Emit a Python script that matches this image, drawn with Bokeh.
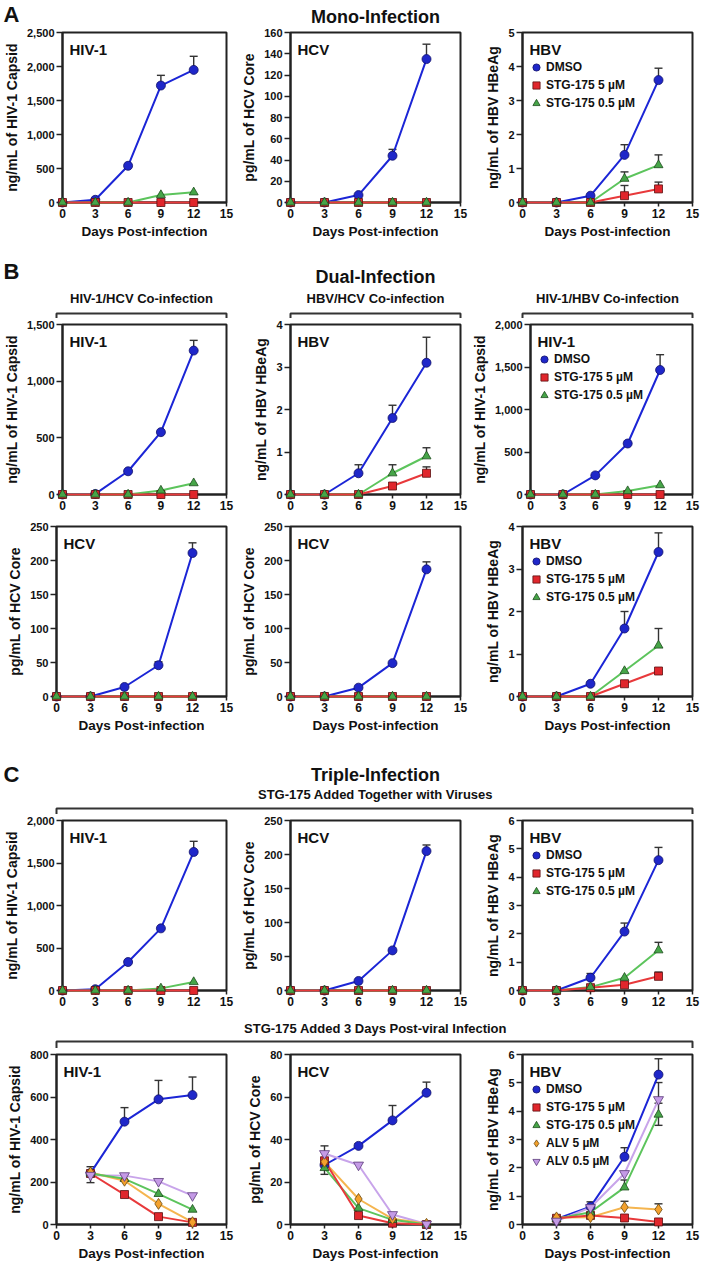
from bokeh.plotting import figure
from bokeh.models import Range1d, Label, Legend, LegendItem, FixedTicker, NumeralTickFormatter
from bokeh.layouts import column, row
from bokeh.embed import file_html
from bokeh.resources import INLINE
from bokeh.core.properties import value

# ------------------------------------------------------------------ data
DAYS = [0, 3, 6, 9, 12]
DAYS_LATE = [3, 6, 9, 12]
X_TICKS = [0, 3, 6, 9, 12, 15]

# A  Mono-infection
a_hiv_dmso = [0, 40, 540, 1720, 1950]
a_hiv_dmso_err = [0, 0, 0, 150, 200]
a_hiv_stg5 = [0, 0, 0, 0, 0]
a_hiv_stg05 = [0, 0, 0, 110, 150]

a_hcv_dmso = [0, 0, 7, 44, 135]
a_hcv_dmso_err = [0, 0, 0, 6, 14]
a_hcv_stg5 = [0, 0, 0, 0, 0]
a_hcv_stg05 = [0, 0, 0, 0, 0]

a_hbv_dmso = [0, 0, 0.2, 1.4, 3.6]
a_hbv_dmso_err = [0, 0, 0, 0.3, 0.35]
a_hbv_stg5 = [0, 0, 0, 0.2, 0.4]
a_hbv_stg5_err = [0, 0, 0, 0.3, 0.2]
a_hbv_stg05 = [0, 0, 0, 0.7, 1.1]
a_hbv_stg05_err = [0, 0, 0, 0.2, 0.3]

# B  Dual-infection (top row)
b_hivhcv_hiv_dmso = [0, 5, 205, 550, 1270]
b_hivhcv_hiv_dmso_err = [0, 0, 0, 0, 90]
b_hivhcv_hiv_stg5 = [0, 0, 0, 0, 0]
b_hivhcv_hiv_stg05 = [0, 0, 0, 35, 100]

b_hbvhcv_hbv_dmso = [0, 0, 0.5, 1.8, 3.1]
b_hbvhcv_hbv_dmso_err = [0, 0, 0.2, 0.3, 0.6]
b_hbvhcv_hbv_stg5 = [0, 0, 0, 0.2, 0.5]
b_hbvhcv_hbv_stg5_err = [0, 0, 0, 0, 0.15]
b_hbvhcv_hbv_stg05 = [0, 0, 0, 0.5, 0.9]
b_hbvhcv_hbv_stg05_err = [0, 0, 0, 0.2, 0.2]

b_hivhbv_hiv_dmso = [0, 0, 225, 600, 1465]
b_hivhbv_hiv_dmso_err = [0, 0, 0, 0, 180]
b_hivhbv_hiv_stg5 = [0, 0, 0, 0, 0]
b_hivhbv_hiv_stg05 = [0, 0, 0, 40, 110]

# B  Dual-infection (bottom row)
b_hivhcv_hcv_dmso = [0, 0, 14, 46, 211]
b_hivhcv_hcv_dmso_err = [0, 0, 0, 5, 15]
b_hivhcv_hcv_stg5 = [0, 0, 0, 0, 0]
b_hivhcv_hcv_stg05 = [0, 0, 0, 0, 0]

b_hbvhcv_hcv_dmso = [0, 0, 13, 49, 187]
b_hbvhcv_hcv_dmso_err = [0, 0, 0, 0, 11]
b_hbvhcv_hcv_stg5 = [0, 0, 0, 0, 0]
b_hbvhcv_hcv_stg05 = [0, 0, 0, 0, 0]

b_hivhbv_hbv_dmso = [0, 0, 0.3, 1.6, 3.4]
b_hivhbv_hbv_dmso_err = [0, 0, 0, 0.4, 0.45]
b_hivhbv_hbv_stg5 = [0, 0, 0, 0.3, 0.6]
b_hivhbv_hbv_stg05 = [0, 0, 0, 0.6, 1.2]
b_hivhbv_hbv_stg05_err = [0, 0, 0, 0, 0.4]

# C  Triple-infection, added together with viruses
c_hiv_dmso = [0, 15, 335, 731, 1630]
c_hiv_dmso_err = [0, 0, 0, 0, 125]
c_hiv_stg5 = [0, 0, 0, 0, 0]
c_hiv_stg05 = [0, 0, 0, 25, 100]

c_hcv_dmso = [0, 0, 14, 59, 205]
c_hcv_dmso_err = [0, 0, 0, 0, 9]
c_hcv_stg5 = [0, 0, 0, 0, 0]
c_hcv_stg05 = [0, 0, 0, 0, 0]

c_hbv_dmso = [0, 0, 0.45, 2.08, 4.6]
c_hbv_dmso_err = [0, 0, 0.15, 0.3, 0.45]
c_hbv_stg5 = [0, 0, 0.1, 0.2, 0.5]
c_hbv_stg5_err = [0, 0, 0, 0, 0.15]
c_hbv_stg05 = [0, 0, 0.12, 0.45, 1.42]
c_hbv_stg05_err = [0, 0, 0, 0, 0.28]

# C  Triple-infection, added 3 days post-infection
d_hiv_dmso = [242, 484, 589, 609]
d_hiv_dmso_err = [30, 66, 89, 85]
d_hiv_dmso_err_lo = [45, 0, 0, 0]
d_hiv_stg5 = [240, 141, 37, 10]
d_hiv_stg05 = [240, 215, 144, 70]
d_hiv_alv5 = [245, 206, 97, 11]
d_hiv_alv05 = [232, 230, 203, 136]

d_hcv_dmso = [28, 37, 49, 62]
d_hcv_dmso_err = [0, 1, 7, 5]
d_hcv_stg5 = [30, 4.2, 0.6, 0]
d_hcv_stg05 = [26.6, 7.7, 2.2, 0]
d_hcv_stg05_err = [3, 0, 0, 0]
d_hcv_stg05_err_lo = [3, 0, 0, 0]
d_hcv_alv5 = [29.5, 12, 2.7, 0.3]
d_hcv_alv05 = [33.4, 28, 4.7, 0.2]
d_hcv_alv05_err = [3.6, 0, 0, 0]

d_hbv_dmso = [0.2, 0.63, 2.39, 5.29]
d_hbv_dmso_err = [0, 0.17, 0.32, 0.56]
d_hbv_stg5 = [0.22, 0.32, 0.23, 0.09]
d_hbv_stg05 = [0.2, 0.43, 1.31, 3.88]
d_hbv_stg05_err = [0, 0, 0.26, 0.4]
d_hbv_stg05_err_lo = [0, 0, 0, 0.38]
d_hbv_alv5 = [0.25, 0.26, 0.61, 0.53]
d_hbv_alv5_err = [0, 0, 0.21, 0.2]
d_hbv_alv05 = [0.12, 0.6, 1.8, 4.41]
d_hbv_alv05_err = [0, 0, 0, 0.6]

LABELS = {"dmso": "DMSO", "stg5": "STG-175 5 µM", "stg05": "STG-175 0.5 µM",
          "alv5": "ALV 5 µM", "alv05": "ALV 0.5 µM"}

# ------------------------------------------------------------------ style
FONT = "Liberation Sans"
STYLE = {
    "dmso":  dict(marker="circle", size=9, fill="#1f27c9", edge="#10106a", path="#1b25d6"),
    "stg5":  dict(marker="square", size=8, fill="#e0262c", edge="#5a1010", path="#e8393b"),
    "stg05": dict(marker="triangle", size=9, fill="#46a548", edge="#1d4d1d", path="#5cc45c"),
    "alv5":  dict(marker="diamond", size=11, fill="#f4a12c", edge="#6a4a10", path="#f5b54f"),
    "alv05": dict(marker="inverted_triangle", size=10, fill="#c49ae6", edge="#5a3a7a", path="#c8a4ea"),
}
LINE_ORDER = ["dmso", "alv05", "alv5", "stg05", "stg5"]
MARK_ORDER = ["dmso", "stg5", "stg05", "alv5", "alv05"]

TOTAL_W = 700
COL_LEFT = [56, 56, 54]
COL_RIGHT = 8
FRAME_W = 170
FRAME_H = 170
FRAME_X = [(56, 226), (290, 460), (522, 692)]   # frame spans in header coordinates
COL_CX = [(a + b) / 2 for a, b in FRAME_X]


def S(key, vals, hi=None, lo=None):
    return dict(key=key, vals=vals, hi=hi, lo=lo)


def panel(col, xs, ymax, ystep, ylabel, name, series, xlabel, top, legend):
    left = COL_LEFT[col]
    bottom = 42 if xlabel else 22
    p = figure(width=left + FRAME_W + COL_RIGHT, height=top + FRAME_H + bottom,
               x_range=Range1d(0, 15), y_range=Range1d(0, ymax),
               output_backend="svg", toolbar_location=None,
               min_border_left=left, min_border_right=COL_RIGHT,
               min_border_top=top, min_border_bottom=bottom)
    p.grid.visible = False
    p.outline_line_color = "#222"
    p.outline_line_width = 2

    p.xaxis.ticker = FixedTicker(ticks=X_TICKS)
    nt = int(round(ymax / ystep))
    p.yaxis.ticker = FixedTicker(ticks=[ystep * i for i in range(nt + 1)])
    p.yaxis.formatter = NumeralTickFormatter(format="0,0")
    for ax in (p.xaxis, p.yaxis):
        ax.axis_line_color = "#222"
        ax.axis_line_width = 2
        ax.major_tick_line_color = "#222"
        ax.major_tick_line_width = 1.5
        ax.major_tick_in = 0
        ax.minor_tick_line_color = None
        ax.major_label_text_color = "#111"
        ax.major_label_text_font = FONT
        ax.major_label_text_font_style = "bold"
        ax.axis_label_text_font = FONT
        ax.axis_label_text_font_style = "bold"
        ax.axis_label_text_color = "#111"
    p.xaxis.major_label_text_font_size = "12px"
    p.yaxis.major_label_text_font_size = "11px"
    p.xaxis.major_tick_out = 4
    p.yaxis.major_tick_out = 6
    p.xaxis.major_label_standoff = 2
    p.yaxis.major_label_standoff = 2
    p.yaxis.axis_label = ylabel
    p.yaxis.axis_label_text_font_size = "14px"
    p.yaxis.axis_label_standoff = 4
    if xlabel:
        p.xaxis.axis_label = "Days Post-infection"
        p.xaxis.axis_label_text_font_size = "13.5px"
        p.xaxis.axis_label_standoff = 3

    by_key = {s["key"]: s for s in series}

    # error bars
    for s in series:
        ex, y0, y1, lx, ly = [], [], [], [], []
        for i, (xv, yv) in enumerate(zip(xs, s["vals"])):
            hi = s["hi"][i] if s["hi"] else 0
            lo = s["lo"][i] if s["lo"] else 0
            if hi or lo:
                ex.append(xv)
                y0.append(yv - lo)
                y1.append(yv + hi)
                if hi:
                    lx.append(xv); ly.append(yv + hi)
                if lo:
                    lx.append(xv); ly.append(yv - lo)
        if ex:
            p.segment(ex, y0, ex, y1, line_color="#333", line_width=1.4, level="overlay")
            p.scatter(lx, ly, marker="dash", size=8, line_color="#333", line_width=1.4, level="overlay")

    for key in LINE_ORDER:
        if key in by_key:
            st = STYLE[key]
            p.line(xs, by_key[key]["vals"], line_color=st["path"], line_width=2, level="overlay")

    marks = {}
    for key in MARK_ORDER:
        if key in by_key:
            st = STYLE[key]
            marks[key] = p.scatter(xs, by_key[key]["vals"], marker=st["marker"], size=st["size"],
                                   fill_color=st["fill"], line_color=st["edge"], line_width=0.8,
                                   level="overlay")

    p.add_layout(Label(x=0, y=ymax, x_offset=7, y_offset=-8, text=name, text_font=FONT,
                       text_font_size="15px", text_font_style="bold", text_baseline="top",
                       text_color="#111"))
    if legend:
        items = [LegendItem(label=LABELS[k], renderers=[marks[k]]) for k in MARK_ORDER if k in marks]
        n = len(items)
        leg = Legend(items=items, location=(5, FRAME_H - 26 - n * 18),
                     glyph_width=18, glyph_height=18, label_height=18, label_standoff=1,
                     spacing=0, padding=0, margin=0, background_fill_alpha=0,
                     border_line_color=None, label_text_font=FONT, label_text_font_size="12px",
                     label_text_font_style="bold", label_text_color="#111")
        p.add_layout(leg)
    return p


def header(h, texts, brackets):
    p = figure(width=TOTAL_W, height=h, x_range=Range1d(0, TOTAL_W), y_range=Range1d(h, 0),
               x_axis_type=None, y_axis_type=None, output_backend="svg", toolbar_location=None,
               min_border=0, min_border_left=0, min_border_right=0,
               min_border_top=0, min_border_bottom=0)
    p.outline_line_color = None
    p.grid.visible = False
    for (x, y, txt, size, align) in texts:
        p.text(x=[x], y=[y], text=[txt], text_font=value(FONT), text_font_size=value(size),
               text_font_style="bold", text_align=align, text_baseline="middle", text_color="#111")
    for (x0, x1, y) in brackets:
        p.line([x0, x0, x1, x1], [h, y, y, h], line_color="#333", line_width=2)
    return p


HIV_L = "ng/mL of HIV-1 Capsid"
HCV_L = "pg/mL of HCV Core"
HBV_L = "ng/mL of HBV HBeAg"
SUB = "13px"
BIG = "22px"

hA = header(26, [(3, 14, "A", BIG, "left"),
                 (COL_CX[1], 16, "Mono-Infection", "18px", "center")], [])
rowA = row(
    panel(0, DAYS, 2500, 500, HIV_L, "HIV-1",
          [S("dmso", a_hiv_dmso, a_hiv_dmso_err), S("stg5", a_hiv_stg5), S("stg05", a_hiv_stg05)],
          True, 6, False),
    panel(1, DAYS, 160, 20, HCV_L, "HCV",
          [S("dmso", a_hcv_dmso, a_hcv_dmso_err), S("stg5", a_hcv_stg5), S("stg05", a_hcv_stg05)],
          True, 6, False),
    panel(2, DAYS, 5, 1, HBV_L, "HBV",
          [S("dmso", a_hbv_dmso, a_hbv_dmso_err), S("stg5", a_hbv_stg5, a_hbv_stg5_err),
           S("stg05", a_hbv_stg05, a_hbv_stg05_err)],
          True, 6, True),
)

hB = header(74, [(3, 27, "B", BIG, "left"),
                 (COL_CX[1], 32, "Dual-Infection", "18px", "center"),
                 (COL_CX[0], 54, "HIV-1/HCV Co-infection", SUB, "center"),
                 (COL_CX[1], 54, "HBV/HCV Co-infection", SUB, "center"),
                 (COL_CX[2], 54, "HIV-1/HBV Co-infection", SUB, "center")],
            [(FRAME_X[0][0], FRAME_X[0][1], 69), (FRAME_X[1][0], FRAME_X[1][1], 69),
             (FRAME_X[2][0], FRAME_X[2][1], 69)])
rowB1 = row(
    panel(0, DAYS, 1500, 500, HIV_L, "HIV-1",
          [S("dmso", b_hivhcv_hiv_dmso, b_hivhcv_hiv_dmso_err), S("stg5", b_hivhcv_hiv_stg5),
           S("stg05", b_hivhcv_hiv_stg05)], False, 6, False),
    panel(1, DAYS, 4, 1, HBV_L, "HBV",
          [S("dmso", b_hbvhcv_hbv_dmso, b_hbvhcv_hbv_dmso_err),
           S("stg5", b_hbvhcv_hbv_stg5, b_hbvhcv_hbv_stg5_err),
           S("stg05", b_hbvhcv_hbv_stg05, b_hbvhcv_hbv_stg05_err)], False, 6, False),
    panel(2, DAYS, 2000, 500, HIV_L, "HIV-1",
          [S("dmso", b_hivhbv_hiv_dmso, b_hivhbv_hiv_dmso_err), S("stg5", b_hivhbv_hiv_stg5),
           S("stg05", b_hivhbv_hiv_stg05)], False, 6, True),
)
rowB2 = row(
    panel(0, DAYS, 250, 50, HCV_L, "HCV",
          [S("dmso", b_hivhcv_hcv_dmso, b_hivhcv_hcv_dmso_err), S("stg5", b_hivhcv_hcv_stg5),
           S("stg05", b_hivhcv_hcv_stg05)], True, 10, False),
    panel(1, DAYS, 250, 50, HCV_L, "HCV",
          [S("dmso", b_hbvhcv_hcv_dmso, b_hbvhcv_hcv_dmso_err), S("stg5", b_hbvhcv_hcv_stg5),
           S("stg05", b_hbvhcv_hcv_stg05)], True, 10, False),
    panel(2, DAYS, 4, 1, HBV_L, "HBV",
          [S("dmso", b_hivhbv_hbv_dmso, b_hivhbv_hbv_dmso_err), S("stg5", b_hivhbv_hbv_stg5),
           S("stg05", b_hivhbv_hbv_stg05, b_hivhbv_hbv_stg05_err)], True, 10, True),
)

hC = header(76, [(3, 36, "C", BIG, "left"),
                 (COL_CX[1], 36, "Triple-Infection", "18px", "center"),
                 (COL_CX[1], 56, "STG-175 Added Together with Viruses", SUB, "center")],
            [(FRAME_X[0][0], FRAME_X[2][1], 70)])
rowC1 = row(
    panel(0, DAYS, 2000, 500, HIV_L, "HIV-1",
          [S("dmso", c_hiv_dmso, c_hiv_dmso_err), S("stg5", c_hiv_stg5), S("stg05", c_hiv_stg05)],
          False, 6, False),
    panel(1, DAYS, 250, 50, HCV_L, "HCV",
          [S("dmso", c_hcv_dmso, c_hcv_dmso_err), S("stg5", c_hcv_stg5), S("stg05", c_hcv_stg05)],
          False, 6, False),
    panel(2, DAYS, 6, 1, HBV_L, "HBV",
          [S("dmso", c_hbv_dmso, c_hbv_dmso_err), S("stg5", c_hbv_stg5, c_hbv_stg5_err),
           S("stg05", c_hbv_stg05, c_hbv_stg05_err)], False, 6, True),
)

hC2 = header(36, [(COL_CX[1], 16, "STG-175 Added 3 Days Post-viral Infection", SUB, "center")],
             [(FRAME_X[0][0], FRAME_X[2][1], 29)])
rowC2 = row(
    panel(0, DAYS_LATE, 800, 200, HIV_L, "HIV-1",
          [S("dmso", d_hiv_dmso, d_hiv_dmso_err, d_hiv_dmso_err_lo), S("stg5", d_hiv_stg5),
           S("stg05", d_hiv_stg05), S("alv5", d_hiv_alv5), S("alv05", d_hiv_alv05)],
          True, 6, False),
    panel(1, DAYS_LATE, 80, 20, HCV_L, "HCV",
          [S("dmso", d_hcv_dmso, d_hcv_dmso_err), S("stg5", d_hcv_stg5),
           S("stg05", d_hcv_stg05, d_hcv_stg05_err, d_hcv_stg05_err_lo), S("alv5", d_hcv_alv5),
           S("alv05", d_hcv_alv05, d_hcv_alv05_err)],
          True, 6, False),
    panel(2, DAYS_LATE, 6, 1, HBV_L, "HBV",
          [S("dmso", d_hbv_dmso, d_hbv_dmso_err), S("stg5", d_hbv_stg5),
           S("stg05", d_hbv_stg05, d_hbv_stg05_err, d_hbv_stg05_err_lo),
           S("alv5", d_hbv_alv5, d_hbv_alv5_err), S("alv05", d_hbv_alv05, d_hbv_alv05_err)],
          True, 6, True),
)

layout = column(hA, rowA, hB, rowB1, rowB2, hC, rowC1, hC2, rowC2)
open("out.html", "w").write(file_html(layout, INLINE))
